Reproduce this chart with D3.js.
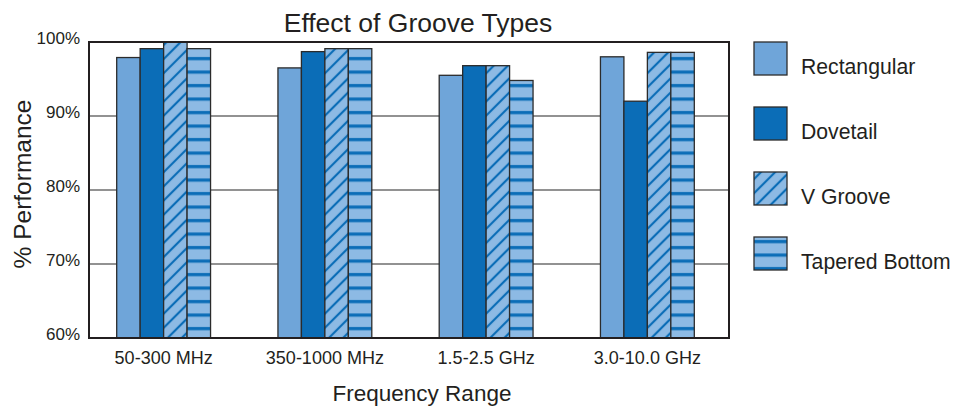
<!DOCTYPE html>
<html>
<head>
<meta charset="utf-8">
<script src="https://cdn.jsdelivr.net/npm/d3@7"></script>
<style>
  html, body { margin: 0; padding: 0; background: #fff; }
  svg { display: block; font-family: "Liberation Sans", Arial, Helvetica, sans-serif; }
</style>
</head>
<body>
<svg id="chart" width="960" height="406"></svg>
<script>
// ---- data ----
const categories = ["50-300 MHz", "350-1000 MHz", "1.5-2.5 GHz", "3.0-10.0 GHz"];
const seriesNames = ["Rectangular", "Dovetail", "V Groove", "Tapered Bottom"];
const rectangular = [97.9, 96.5, 95.5, 98.0];
const dovetail    = [99.1, 98.7, 96.8, 92.0];
const vGroove     = [100.0, 99.1, 96.8, 98.6];
const tapered     = [99.1, 99.1, 94.8, 98.6];
const yTicks = [60, 70, 80, 90, 100];
const title = "Effect of Groove Types";
const xTitle = "Frequency Range";
const yTitle = "% Performance";

const seriesValues = [rectangular, dovetail, vGroove, tapered];

// ---- layout ----
const plot = { left: 89, right: 729, top: 42, bottom: 338 };
const colLight = "#6fa5d9", colDark = "#0b6db7", colPale = "#8dbae4";
const stroke = "#2b2b2b";

const svg = d3.select("#chart");
const defs = svg.append("defs");

// diagonal hatch (V Groove)
const pDiag = defs.append("pattern")
  .attr("id", "diag").attr("patternUnits", "userSpaceOnUse")
  .attr("width", 10).attr("height", 10)
  .attr("patternTransform", "rotate(45)");
pDiag.append("rect").attr("width", 10).attr("height", 10).attr("fill", colPale);
pDiag.append("line").attr("x1", 5).attr("x2", 5).attr("y1", 0).attr("y2", 10)
  .attr("stroke", colDark).attr("stroke-width", 2.2);

// horizontal stripes (Tapered Bottom)
const pHor = defs.append("pattern")
  .attr("id", "hstripe").attr("patternUnits", "userSpaceOnUse")
  .attr("width", 10).attr("height", 13.5);
pHor.append("rect").attr("width", 10).attr("height", 13.5).attr("fill", colPale);
pHor.append("rect").attr("y", 3).attr("width", 10).attr("height", 3.2).attr("fill", colDark);

const fills = [colLight, colDark, "url(#diag)", "url(#hstripe)"];

// ---- scales ----
const y = d3.scaleLinear().domain([60, 100]).range([plot.bottom, plot.top]);
const x0 = d3.scaleBand().domain(categories).range([83, 728])
  .paddingInner(0.418).paddingOuter(0.209);
const x1 = d3.scaleBand().domain(seriesNames).range([0, x0.bandwidth()]);

// ---- gridlines ----
svg.append("g").selectAll("line")
  .data(yTicks.filter(t => t > 60 && t < 100))
  .join("line")
  .attr("x1", plot.left).attr("x2", plot.right)
  .attr("y1", d => y(d)).attr("y2", d => y(d))
  .attr("stroke", "#6e6e6e").attr("stroke-width", 1.4);

// ---- bars ----
const groups = svg.append("g").selectAll("g")
  .data(categories)
  .join("g")
  .attr("transform", d => `translate(${x0(d)},0)`);

groups.selectAll("rect")
  .data((c, ci) => seriesNames.map((s, si) => ({ s, si, v: seriesValues[si][ci] })))
  .join("rect")
  .attr("x", d => x1(d.s))
  .attr("width", x1.bandwidth())
  .attr("y", d => y(d.v))
  .attr("height", d => y(60) - y(d.v))
  .attr("fill", d => fills[d.si])
  .attr("stroke", stroke).attr("stroke-width", 1.3);

// ---- frame ----
svg.append("rect")
  .attr("x", plot.left).attr("y", plot.top)
  .attr("width", plot.right - plot.left).attr("height", plot.bottom - plot.top)
  .attr("fill", "none").attr("stroke", "#231f20").attr("stroke-width", 2);

// ---- y axis labels ----
const yAxis = d3.axisLeft(y).tickValues(yTicks).tickFormat(d => d + "%").tickSize(0).tickPadding(0);
const gy = svg.append("g").attr("transform", `translate(80,0)`).call(yAxis);
gy.select(".domain").remove();
gy.selectAll("text").attr("font-size", 17).attr("fill", "#231f20")
  .attr("font-family", "Liberation Sans, Arial, sans-serif").attr("dy", "0.1em");

// ---- x axis labels ----
const xAxis = d3.axisBottom(x0).tickSize(0).tickPadding(0);
const gx = svg.append("g").attr("transform", `translate(0,${plot.bottom})`).call(xAxis);
gx.select(".domain").remove();
gx.selectAll("text").attr("font-size", 18).attr("fill", "#231f20")
  .attr("font-family", "Liberation Sans, Arial, sans-serif").attr("dy", "1.45em");

// ---- titles ----
svg.append("text").attr("x", 418).attr("y", 32).attr("text-anchor", "middle")
  .attr("font-size", 26.5).attr("fill", "#231f20").text(title);
svg.append("text").attr("x", 422).attr("y", 401).attr("text-anchor", "middle")
  .attr("font-size", 22.5).attr("fill", "#231f20").text(xTitle);
svg.append("text").attr("transform", "translate(31,184) rotate(-90)").attr("text-anchor", "middle")
  .attr("font-size", 24.5).attr("fill", "#231f20").text(yTitle);

// ---- legend ----
const legend = svg.append("g").selectAll("g")
  .data(seriesNames)
  .join("g")
  .attr("transform", (d, i) => `translate(754,${42 + i * 65})`);
legend.append("rect")
  .attr("width", 33).attr("height", 33)
  .attr("fill", (d, i) => fills[i])
  .attr("stroke", stroke).attr("stroke-width", 1.3);
legend.append("text")
  .attr("x", 47).attr("y", 32)
  .attr("font-size", 21.2).attr("fill", "#231f20")
  .text(d => d);
</script>
</body>
</html>
